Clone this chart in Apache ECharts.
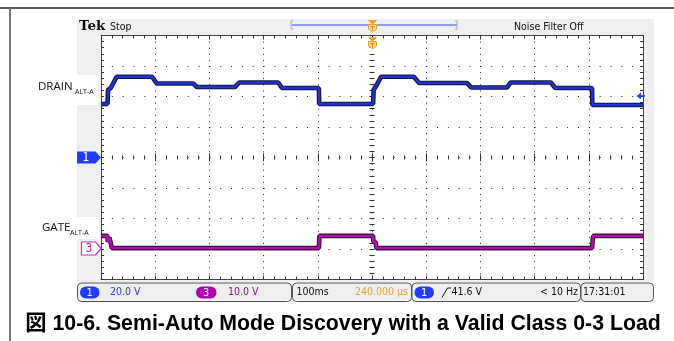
<!DOCTYPE html>
<html>
<head>
<meta charset="utf-8">
<script src="https://cdn.jsdelivr.net/npm/echarts@6/dist/echarts.min.js"></script>
<style>
  html, body { margin: 0; padding: 0; background: #fff; }
  #scope { width: 674px; height: 341px; }
</style>
</head>
<body>
<div id="scope"></div>
<script>
// Channel 1 (DRAIN), volts vs. time in ms (10 div x 100 ms)
const drainTime = [0, 12, 13, 18, 29, 94, 103, 170, 177, 247, 255, 327, 334, 402, 402.5,
                   502, 503, 508, 517, 577, 587, 675, 683, 749, 756, 830, 838, 906, 906.5, 1000];
const drainVolt = [35.1, 35.1, 44.3, 45.6, 53.0, 53.0, 48.5, 48.5, 46.2, 46.2, 49.2, 49.2, 45.6, 45.6, 35.1,
                   35.1, 44.3, 47.2, 53.0, 53.0, 48.9, 48.9, 45.9, 45.9, 49.2, 49.2, 45.6, 45.6, 34.4, 34.4];

// Channel 3 (GATE), volts vs. time in ms
const gateTime = [0, 12, 12.5, 15, 15.5, 19, 20, 402, 403, 502, 502.5, 507, 508, 906, 908, 1000];
const gateVolt = [4.3, 4.3, 2.3, 2.3, 3.8, 3.8, 0.3, 0.3, 4.3, 4.3, 2.3, 2.3, 0.3, 0.3, 4.3, 4.3];

// Readout texts
const ch1Scale = '20.0 V';
const ch3Scale = '10.0 V';
const timeScale = '100ms';
const triggerPos = '240.000 \u00b5s';
const triggerLevel = '41.6 V';
const triggerFreq = '< 10 Hz';
const clockText = '17:31:01';
const caption = '\u56f3 10-6. Semi-Auto Mode Discovery with a Valid Class 0-3 Load';

const BLUE = '#2233d0';
const MAGENTA = '#b010b0';
const SCOPE_FONT = '"DejaVu Sans Condensed", "Liberation Sans Narrow", "DejaVu Sans", sans-serif';
const LABEL_FONT = '"Open Sans", "Noto Sans", sans-serif';

const tickLine = { color: '#333', width: 1 };

function xAxisDef(position, opts) {
  return {
    type: 'value', min: 0, max: 1000, interval: 100, position: position,
    axisLine: opts.axisLine || { show: true, onZero: false, lineStyle: { color: '#444', width: 1 } },
    axisTick: { show: true, inside: opts.inside !== false, length: opts.tick || 4, lineStyle: tickLine },
    minorTick: { show: true, splitNumber: 5, length: opts.minor || 3, lineStyle: tickLine },
    axisLabel: { show: false },
    splitLine: opts.splitLine || { show: false }
  };
}
function yAxisDef(position, opts) {
  return {
    type: 'value', min: -80, max: 80, interval: 20, position: position,
    axisLine: opts.axisLine || { show: true, onZero: false, lineStyle: { color: '#444', width: 1 } },
    axisTick: { show: true, inside: opts.inside !== false, length: opts.tick || 3, lineStyle: tickLine },
    minorTick: { show: true, splitNumber: 5, length: opts.minor || 3, lineStyle: tickLine },
    axisLabel: { show: false },
    splitLine: opts.splitLine || { show: false }
  };
}
const hiddenLine = { show: true, lineStyle: { color: 'rgba(0,0,0,0)' } };

const chart = echarts.init(document.getElementById('scope'));

const xAxes = [
  // bottom frame + vertical dotted graticule
  xAxisDef('bottom', { splitLine: { show: true, lineStyle: { color: '#222', width: 1, type: [1, 5.1] } } }),
  // top frame
  xAxisDef('top', {}),
  // centre horizontal crosshair ticks (both sides)
  xAxisDef('bottom', { axisLine: Object.assign({ onZero: true, onZeroAxisIndex: 0 }, hiddenLine), inside: false, tick: 4, minor: 2 }),
  xAxisDef('bottom', { axisLine: Object.assign({ onZero: true, onZeroAxisIndex: 0 }, hiddenLine), inside: true, tick: 4, minor: 2 }),
  // symmetric helper axis so the vertical crosshair can sit on zero
  { type: 'value', min: -500, max: 500, show: false }
];

const yAxes = [
  // channel 1 scale, left frame + horizontal dotted graticule
  yAxisDef('left', { splitLine: { show: true, lineStyle: { color: '#222', width: 1, type: [1, 9.84] } } }),
  // channel 3 scale (10 V/div, ground one division above bottom)
  { type: 'value', min: -10, max: 70, interval: 10, show: false },
  // right frame
  yAxisDef('right', {}),
  // centre vertical crosshair ticks (both sides)
  yAxisDef('left', { axisLine: Object.assign({ onZero: true, onZeroAxisIndex: 4 }, hiddenLine), inside: false, tick: 2.5, minor: 2.5 }),
  yAxisDef('left', { axisLine: Object.assign({ onZero: true, onZeroAxisIndex: 4 }, hiddenLine), inside: true, tick: 2.5, minor: 2.5 })
];

function pairs(ts, vs) { return ts.map((t, i) => [t, vs[i]]); }

function trace(data, yIndex, edge, fill) {
  return [
    { type: 'line', xAxisIndex: 0, yAxisIndex: yIndex, data: data, showSymbol: false, silent: true,
      lineStyle: { width: 4.6, color: edge }, z: 5 },
    { type: 'line', xAxisIndex: 0, yAxisIndex: yIndex, data: data, showSymbol: false, silent: true,
      lineStyle: { width: 2.4, color: fill }, z: 6 }
  ];
}

function txt(text, x, y, opt) {
  return {
    type: 'text', z: 20,
    style: Object.assign({
      text: text, x: x, y: y, fill: '#111', fontSize: 10.5, fontFamily: SCOPE_FONT,
      textAlign: 'left', textVerticalAlign: 'middle'
    }, opt || {})
  };
}
function box(x, y, w, h) {
  return { type: 'rect', z: 10, shape: { x: x, y: y, width: w, height: h, r: 4 },
           style: { fill: '#efefef', stroke: '#555', lineWidth: 1 } };
}
function pill(x, y, w, color, label) {
  return [
    { type: 'rect', z: 15, shape: { x: x, y: y, width: w, height: 12, r: 6 }, style: { fill: color } },
    txt(label, x + w / 2, y + 6.5, { fill: '#fff', textAlign: 'center', fontSize: 11 })
  ];
}
function trigMarker(cx, y) {
  return [
    { type: 'polygon', z: 20, shape: { points: [[cx - 5, y], [cx + 5, y], [cx, y + 4.5]] },
      style: { fill: '#f0a030' } },
    { type: 'polygon', z: 20, shape: { points: [[cx - 4, y + 4.5], [cx + 4, y + 4.5], [cx + 4, y + 9], [cx, y + 12], [cx - 4, y + 9]] },
      style: { fill: '#fbd7a0', stroke: '#f0a030', lineWidth: 1 } },
    { type: 'polyline', z: 21, shape: { points: [[cx - 2, y + 6.5], [cx + 2, y + 6.5]] }, style: { stroke: '#e08a10', lineWidth: 1 } },
    { type: 'polyline', z: 21, shape: { points: [[cx, y + 6.5], [cx, y + 10.5]] }, style: { stroke: '#e08a10', lineWidth: 1 } }
  ];
}

const graphics = [
  // page frame
  { type: 'line', z: 1, shape: { x1: 0, y1: 8, x2: 674, y2: 8 }, style: { stroke: '#222', lineWidth: 1.5 } },
  { type: 'line', z: 1, shape: { x1: 10, y1: 8, x2: 10, y2: 341 }, style: { stroke: '#777', lineWidth: 2 } },
  // instrument background
  { type: 'rect', z: -10, shape: { x: 77, y: 19, width: 577, height: 263 }, style: { fill: '#efefef' } },
  { type: 'rect', z: -9, shape: { x: 101, y: 35.5, width: 542, height: 244 }, style: { fill: '#ffffff' } },
  // waveform label patches
  { type: 'rect', z: -8, shape: { x: 77, y: 75, width: 21, height: 30 }, style: { fill: '#ffffff' } },
  { type: 'rect', z: -8, shape: { x: 77, y: 217, width: 22, height: 22 }, style: { fill: '#ffffff' } },
  // header
  txt('Tek', 79, 26.5, { fontFamily: '"DejaVu Serif", serif', fontWeight: 'bold', fontSize: 13.5 }),
  txt('Stop', 110, 27, {}),
  txt('Noise Filter Off', 514, 27, {}),
  { type: 'line', z: 12, shape: { x1: 292, y1: 25, x2: 457, y2: 25 }, style: { stroke: '#3050e8', lineWidth: 1.2 } },
  { type: 'polyline', z: 12, shape: { points: [[293, 21], [291, 21], [291, 29], [293, 29]] }, style: { stroke: '#aaa', lineWidth: 1 } },
  { type: 'polyline', z: 12, shape: { points: [[455, 21], [457, 21], [457, 29], [455, 29]] }, style: { stroke: '#aaa', lineWidth: 1 } }
].concat(trigMarker(372.5, 20), trigMarker(372.5, 37), [
  // channel labels
  txt('DRAIN', 38, 87, { fontFamily: LABEL_FONT, fontSize: 11.5, fill: '#111' }),
  txt('ALT-A', 75, 91.5, { fontFamily: LABEL_FONT, fontSize: 7, fill: '#111' }),
  txt('GATE', 42, 228, { fontFamily: LABEL_FONT, fontSize: 11.5, fill: '#111' }),
  txt('ALT-A', 70, 232.5, { fontFamily: LABEL_FONT, fontSize: 7, fill: '#111' }),
  // channel ground markers
  { type: 'polygon', z: 20, shape: { points: [[77, 151.5], [95.5, 151.5], [101, 157.5], [95.5, 163.5], [77, 163.5]] },
    style: { fill: '#1f3cff' } },
  txt('1', 86, 158, { fill: '#fff', fontSize: 12, textAlign: 'center' }),
  { type: 'polygon', z: 20, shape: { points: [[81.5, 242], [95.5, 242], [101, 248.5], [95.5, 255], [81.5, 255]] },
    style: { fill: '#fff', stroke: '#c030c0', lineWidth: 1.2 } },
  txt('3', 89, 248.8, { fill: '#b020b0', fontSize: 12, textAlign: 'center' }),
  // trigger level arrow
  { type: 'polygon', z: 20, shape: { points: [[636.5, 96], [641, 92.5], [641, 99.5]] }, style: { fill: '#2040ff' } },
  { type: 'line', z: 20, shape: { x1: 640, y1: 96, x2: 645, y2: 96 }, style: { stroke: '#2040ff', lineWidth: 1.6 } },
  // readout bar
  box(77.5, 283, 214, 18.5),
  box(292.5, 283, 119, 18.5),
  box(412, 283, 168.5, 18.5),
  box(581, 283, 72.5, 18.5)
]).concat(
  pill(80, 286.5, 19.5, '#1f3cff', '1'),
  [txt(ch1Scale, 110, 292.5, { fill: '#2a3cff' })],
  pill(196, 286.5, 20.5, '#b000b0', '3'),
  [txt(ch3Scale, 228, 292.5, { fill: '#a000a0' })],
  [txt(timeScale, 296.5, 292.5, {}),
   txt(triggerPos, 408, 292.5, { fill: '#f0a030', textAlign: 'right' })],
  pill(414.5, 286.5, 19.5, '#1f3cff', '1'),
  [{ type: 'polyline', z: 16, shape: { points: [[442, 297.5], [447.5, 288], [451, 288]] }, style: { stroke: '#111', lineWidth: 1 } },
   txt(triggerLevel, 451.5, 292.5, {}),
   txt(triggerFreq, 578, 292.5, { textAlign: 'right' }),
   txt(clockText, 583, 292.5, {}),
   // figure caption
   txt(caption, 343, 324, { fontFamily: '"Liberation Sans", Arial, "Noto Sans CJK JP", sans-serif',
                            fontWeight: 'bold', fontSize: 21.3, textAlign: 'center', fill: '#000' })]
);

chart.setOption({
  animation: false,
  grid: { left: 101, top: 35.5, width: 542, height: 244, show: false },
  xAxis: xAxes,
  yAxis: yAxes,
  series: trace(pairs(drainTime, drainVolt), 0, '#14143a', BLUE)
          .concat(trace(pairs(gateTime, gateVolt), 1, '#3a0a3a', MAGENTA)),
  graphic: { elements: graphics }
});
</script>
</body>
</html>
